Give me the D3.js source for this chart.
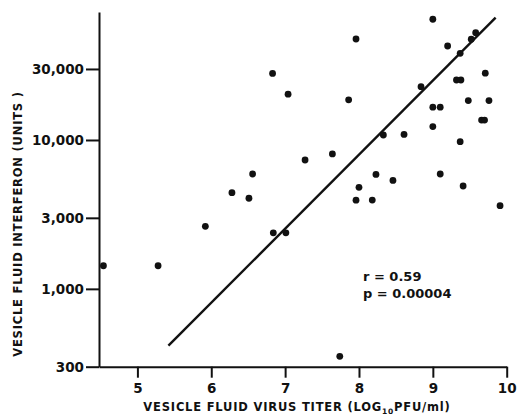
<!DOCTYPE html>
<html>
<head>
<meta charset="utf-8">
<script src="https://cdn.jsdelivr.net/npm/d3@7"></script>
<style>
    body { margin: 0; background: #fff; }
    text { font-family: 'DejaVu Sans', sans-serif; font-weight: bold; fill: #111; }
</style>
</head>
<body>
<div id="chart"></div>
<script>
const titers = [4.54, 5.28, 5.92, 6.28, 6.51, 6.56, 6.84, 7.01, 6.83, 7.04, 7.27, 7.64, 7.74, 7.86, 7.96, 7.96, 8.00, 8.18, 8.23, 8.33, 8.46, 8.61, 8.84, 9.00, 9.00, 9.10, 9.00, 9.10, 9.20, 9.32, 9.38, 9.37, 9.37, 9.41, 9.48, 9.52, 9.58, 9.66, 9.70, 9.71, 9.76, 9.91]
const interferon = [1430, 1430, 2630, 4430, 4060, 5910, 2380, 2380, 28000, 20300, 7340, 8060, 352, 18600, 47700, 3940, 4810, 3950, 5870, 10800, 5350, 10900, 22800, 64700, 16600, 16600, 12300, 5910, 42800, 25300, 25300, 38200, 9740, 4910, 18400, 47500, 52600, 13600, 13600, 28100, 18400, 3620]
const fitX = [5.42, 9.85]
const fitY = [415, 66300]
const xTicks = [5, 6, 7, 8, 9, 10]
const yTicks = [300, 1000, 3000, 10000, 30000]
const stats = ['r = 0.59', 'p = 0.00004']

const width = 519
const height = 417
const margin = { top: 12, right: 12.3, bottom: 50.3, left: 99 }

const xScale = d3.scaleLinear().domain([4.48, 10]).range([margin.left, width - margin.right])
const yScale = d3.scaleLog().domain([300, 72400]).range([height - margin.bottom, margin.top])

const svg = d3.select('#chart')
            .append('svg')
            .attr('width', width)
            .attr('height', height)

const xAxis = d3.axisBottom(xScale).tickValues(xTicks).tickFormat(d3.format('d')).tickSize(11).tickSizeOuter(0).tickPadding(6)
const yAxis = d3.axisLeft(yScale).tickValues(yTicks).tickFormat(d3.format(',')).tickSize(13).tickSizeOuter(0).tickPadding(2)

const gx = svg.append('g')
            .attr('transform', `translate(0, ${height - margin.bottom})`)
            .call(xAxis)
const gy = svg.append('g')
            .attr('transform', `translate(${margin.left}, 0)`)
            .call(yAxis)

svg.selectAll('.domain, .tick line')
    .attr('stroke', '#111')
    .attr('stroke-width', 2)
gx.selectAll('text').attr('font-size', 13.5).attr('font-family', "'DejaVu Sans', sans-serif").attr('font-weight', 'bold')
gy.selectAll('text').attr('font-size', 13.5).attr('font-family', "'DejaVu Sans', sans-serif").attr('font-weight', 'bold').attr('dy', '0.36em')

svg.append('line')
    .attr('x1', xScale(fitX[0]))
    .attr('y1', yScale(fitY[0]))
    .attr('x2', xScale(fitX[1]))
    .attr('y2', yScale(fitY[1]))
    .attr('stroke', '#111')
    .attr('stroke-width', 2.4)

svg.selectAll('circle')
    .data(titers)
    .enter()
    .append('circle')
    .attr('cx', (d) => xScale(d))
    .attr('cy', (d, i) => yScale(interferon[i]))
    .attr('r', 3.4)
    .attr('fill', '#111')

svg.selectAll('.stat')
    .data(stats)
    .enter()
    .append('text')
    .attr('class', 'stat')
    .attr('x', 363)
    .attr('y', (d, i) => 281 + i * 17)
    .attr('font-size', 13)
    .text((d) => d)

const xTitle = svg.append('text')
            .attr('x', 297)
            .attr('y', 411)
            .attr('text-anchor', 'middle')
            .attr('font-size', 11.5)
            .attr('letter-spacing', 0.8)
xTitle.append('tspan').text('VESICLE FLUID VIRUS TITER (LOG')
xTitle.append('tspan').attr('font-size', 7.5).attr('dy', 3).text('10')
xTitle.append('tspan').attr('dy', -3).text('PFU/ml)')

svg.append('text')
    .attr('transform', `translate(21.5, 224) rotate(-90)`)
    .attr('text-anchor', 'middle')
    .attr('font-size', 11.5)
    .attr('letter-spacing', 0.8)
    .text('VESICLE FLUID INTERFERON (UNITS )')
</script>
</body>
</html>
